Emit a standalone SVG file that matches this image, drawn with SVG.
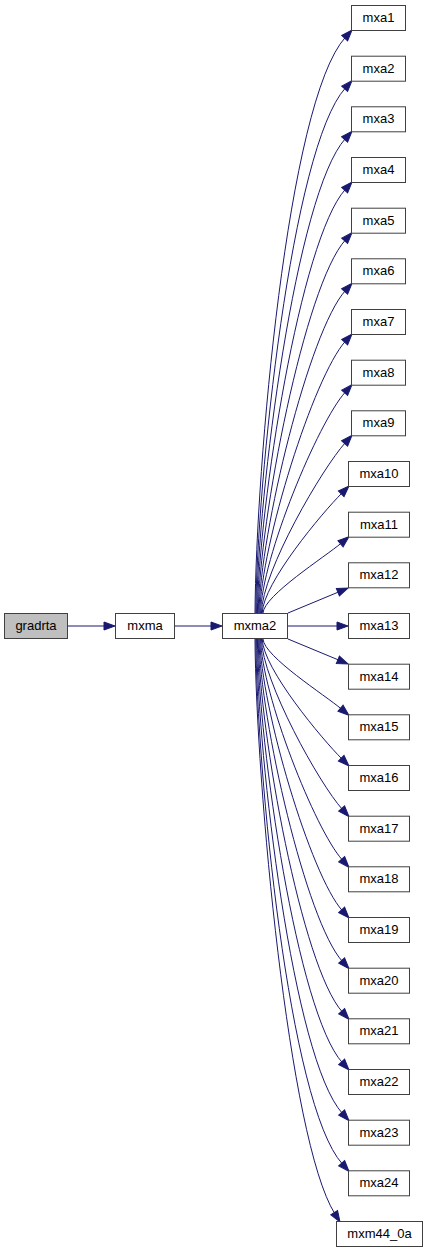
<svg xmlns="http://www.w3.org/2000/svg" width="428" height="1253" viewBox="0 0 428 1253">
<style>
.n rect{fill:#ffffff;stroke:#404040;stroke-width:1}
.n.g rect{fill:#bfbfbf}
.n text{font-family:"Liberation Sans",Arial,sans-serif;font-size:13px;fill:#000;text-anchor:middle}
#edges path{fill:none;stroke:#191970;stroke-width:1;marker-end:url(#ah)}
</style>
<defs>
<marker id="ah" markerUnits="userSpaceOnUse" markerWidth="13" markerHeight="10" refX="1" refY="4" orient="auto" overflow="visible">
<path d="M0,0 L11,4 L0,8 z" fill="#191970" stroke="#191970" stroke-width="1"/>
</marker>
</defs>
<g id="edges">
<path d="M68,626 L105,626"/>
<path d="M175,626 L212,626"/>
<path d="M255,613 C256,469.1 287.2,101.9 345.3,37.4"/>
<path d="M255.8,613 C256.8,481.8 291.6,147.7 345.3,88.1"/>
<path d="M256.6,613 C257.6,494.4 296,193.5 345.3,138.7"/>
<path d="M257.4,613 C258.4,507.1 300.4,239.3 345.3,189.4"/>
<path d="M258.2,613 C259.2,519.8 304.8,285 345.3,240.1"/>
<path d="M259,613 C260,532.4 309.2,330.7 345.3,290.7"/>
<path d="M259.8,613 C260.8,545.1 313.7,376.5 345.3,341.4"/>
<path d="M260.6,613 C261.6,557.8 318.1,422.3 345.3,392.1"/>
<path d="M261.4,613 C262.4,570.4 322.5,468 345.3,442.7"/>
<path d="M262.2,613 C263.2,583 322.4,512.6 341.9,493.1"/>
<path d="M263,613 C264,595.5 325.1,556.7 341.3,543.1"/>
<path d="M288,613 L338.8,591.9"/>
<path d="M288,626 L338,626"/>
<path d="M288,639 L338.8,660.1"/>
<path d="M263,639 C264,656.5 325.1,695.3 341.3,708.9"/>
<path d="M262.2,639 C263.2,669 322.4,739.4 341.9,758.9"/>
<path d="M261.4,639 C262.4,681.6 319.5,784 342.3,809.3"/>
<path d="M260.6,639 C261.6,694.2 315.1,829.7 342.3,859.9"/>
<path d="M259.8,639 C260.8,706.9 310.7,875.5 342.3,910.6"/>
<path d="M259,639 C260,719.6 306.2,921.3 342.3,961.3"/>
<path d="M258.2,639 C259.2,732.2 301.8,967 342.3,1011.9"/>
<path d="M257.4,639 C258.4,744.9 297.4,1012.7 342.3,1062.6"/>
<path d="M256.6,639 C257.6,757.6 293,1058.5 342.3,1113.3"/>
<path d="M255.8,639 C256.8,770.2 288.6,1104.3 342.3,1163.9"/>
<path d="M255,639 C256,782.6 288.7,1140 334.7,1213.5"/>
</g>
<g id="gradrta" class="n g"><rect x="4.5" y="613.5" width="63" height="25"/><text x="36" y="630">gradrta</text></g>
<g id="mxma" class="n"><rect x="115.5" y="613.5" width="59" height="25"/><text x="145" y="630">mxma</text></g>
<g id="mxma2" class="n"><rect x="222.5" y="613.5" width="65" height="25"/><text x="255" y="630">mxma2</text></g>
<g id="mxa1" class="n"><rect x="351.5" y="5.5" width="54" height="25"/><text x="378.5" y="22">mxa1</text></g>
<g id="mxa2" class="n"><rect x="351.5" y="56.2" width="54" height="25"/><text x="378.5" y="72.7">mxa2</text></g>
<g id="mxa3" class="n"><rect x="351.5" y="106.8" width="54" height="25"/><text x="378.5" y="123.3">mxa3</text></g>
<g id="mxa4" class="n"><rect x="351.5" y="157.5" width="54" height="25"/><text x="378.5" y="174">mxa4</text></g>
<g id="mxa5" class="n"><rect x="351.5" y="208.2" width="54" height="25"/><text x="378.5" y="224.7">mxa5</text></g>
<g id="mxa6" class="n"><rect x="351.5" y="258.8" width="54" height="25"/><text x="378.5" y="275.3">mxa6</text></g>
<g id="mxa7" class="n"><rect x="351.5" y="309.5" width="54" height="25"/><text x="378.5" y="326">mxa7</text></g>
<g id="mxa8" class="n"><rect x="351.5" y="360.2" width="54" height="25"/><text x="378.5" y="376.7">mxa8</text></g>
<g id="mxa9" class="n"><rect x="351.5" y="410.8" width="54" height="25"/><text x="378.5" y="427.3">mxa9</text></g>
<g id="mxa10" class="n"><rect x="348.5" y="461.5" width="61" height="25"/><text x="379" y="478">mxa10</text></g>
<g id="mxa11" class="n"><rect x="348.5" y="512.2" width="61" height="25"/><text x="379" y="528.7">mxa11</text></g>
<g id="mxa12" class="n"><rect x="348.5" y="562.8" width="61" height="25"/><text x="379" y="579.3">mxa12</text></g>
<g id="mxa13" class="n"><rect x="348.5" y="613.5" width="61" height="25"/><text x="379" y="630">mxa13</text></g>
<g id="mxa14" class="n"><rect x="348.5" y="664.2" width="61" height="25"/><text x="379" y="680.7">mxa14</text></g>
<g id="mxa15" class="n"><rect x="348.5" y="714.8" width="61" height="25"/><text x="379" y="731.3">mxa15</text></g>
<g id="mxa16" class="n"><rect x="348.5" y="765.5" width="61" height="25"/><text x="379" y="782">mxa16</text></g>
<g id="mxa17" class="n"><rect x="348.5" y="816.2" width="61" height="25"/><text x="379" y="832.7">mxa17</text></g>
<g id="mxa18" class="n"><rect x="348.5" y="866.8" width="61" height="25"/><text x="379" y="883.3">mxa18</text></g>
<g id="mxa19" class="n"><rect x="348.5" y="917.5" width="61" height="25"/><text x="379" y="934">mxa19</text></g>
<g id="mxa20" class="n"><rect x="348.5" y="968.2" width="61" height="25"/><text x="379" y="984.7">mxa20</text></g>
<g id="mxa21" class="n"><rect x="348.5" y="1018.8" width="61" height="25"/><text x="379" y="1035.3">mxa21</text></g>
<g id="mxa22" class="n"><rect x="348.5" y="1069.5" width="61" height="25"/><text x="379" y="1086">mxa22</text></g>
<g id="mxa23" class="n"><rect x="348.5" y="1120.2" width="61" height="25"/><text x="379" y="1136.7">mxa23</text></g>
<g id="mxa24" class="n"><rect x="348.5" y="1170.8" width="61" height="25"/><text x="379" y="1187.3">mxa24</text></g>
<g id="mxm44_0a" class="n"><rect x="336.5" y="1221.5" width="86" height="25"/><text x="379.5" y="1238">mxm44_0a</text></g>
</svg>
